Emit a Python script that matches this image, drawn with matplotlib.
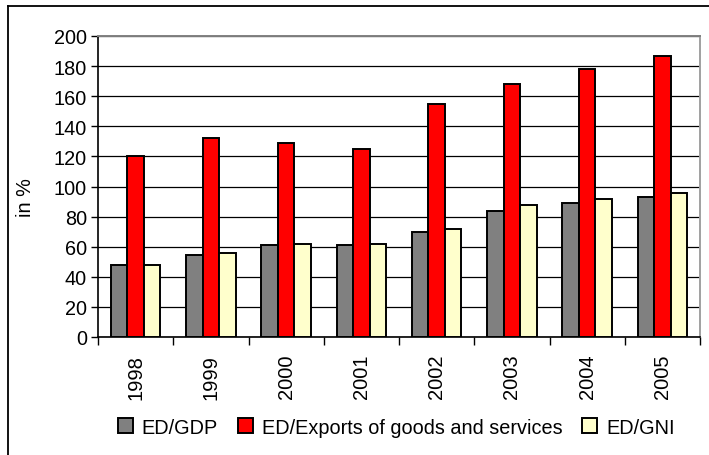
import numpy as np
import matplotlib
matplotlib.use("Agg")
import matplotlib.pyplot as plt
from matplotlib.lines import Line2D

plt.rcParams['font.family'] = ['Liberation Sans', 'DejaVu Sans']

years = ['1998', '1999', '2000', '2001', '2002', '2003', '2004', '2005']
ed_gdp = [48, 54.5, 61, 61, 70, 84, 89, 93]
ed_exports = [120, 132, 129, 125, 155, 168, 178, 187]
ed_gni = [48, 56, 62, 62, 72, 88, 92, 96]

series = [
    ('ED/GDP', ed_gdp, '#808080'),
    ('ED/Exports of goods and services', ed_exports, '#FF0000'),
    ('ED/GNI', ed_gni, '#FFFFCC'),
]

fig = plt.figure(figsize=(7.09, 4.56), dpi=100)
ax = fig.add_axes([98 / 709, 118 / 456, 602 / 709, 301 / 456])

x = np.arange(len(years))
w = 0.22
for i, (name, vals, col) in enumerate(series):
    ax.bar(x + (i - 1) * w, vals, w, color=col, edgecolor='black',
           linewidth=1.4, label=name, zorder=3)

ax.set_xlim(-0.5, len(years) - 0.5)
ax.set_ylim(0, 200)
ax.set_yticks(range(0, 201, 20))
ax.tick_params(axis='y', labelsize=14.3, length=5, width=1, direction='out', pad=3)
ax.yaxis.grid(True, color='black', linewidth=0.9, zorder=0)

ax.set_xticks(x)
ax.set_xticklabels(years, rotation=90, fontsize=14.5)
ax.set_xticks(np.arange(-0.5, len(years)), minor=True)
ax.tick_params(axis='x', which='major', length=0, pad=12)
ax.tick_params(axis='x', which='minor', length=6, width=1, direction='out')

ax.set_ylabel('in %', fontsize=14.3, labelpad=13)
ax.yaxis.set_label_coords(-0.105, 0.465)

for side in ['left', 'bottom']:
    ax.spines[side].set_color('black')
    ax.spines[side].set_linewidth(1.2)
ax.spines['top'].set_color('#808080')
ax.spines['right'].set_color('#a0a0a0')
for side in ['top', 'right']:
    ax.spines[side].set_linewidth(1.4)

handles, labels = ax.get_legend_handles_labels()
fig.legend(handles, labels, loc='center', bbox_to_anchor=(0.559, 0.061),
           ncol=3, frameon=False, fontsize=14.3, handlelength=0.75,
           handleheight=0.75, handletextpad=0.45, columnspacing=1.0)

# outer chart border
fig.add_artist(Line2D([8 / 709, 8 / 709], [0, 1 - 7 / 456], transform=fig.transFigure,
                      color='black', linewidth=1.3))
fig.add_artist(Line2D([8 / 709, 1], [1 - 7 / 456, 1 - 7 / 456], transform=fig.transFigure,
                      color='black', linewidth=1.3))

fig.savefig('out.png', dpi=100)
